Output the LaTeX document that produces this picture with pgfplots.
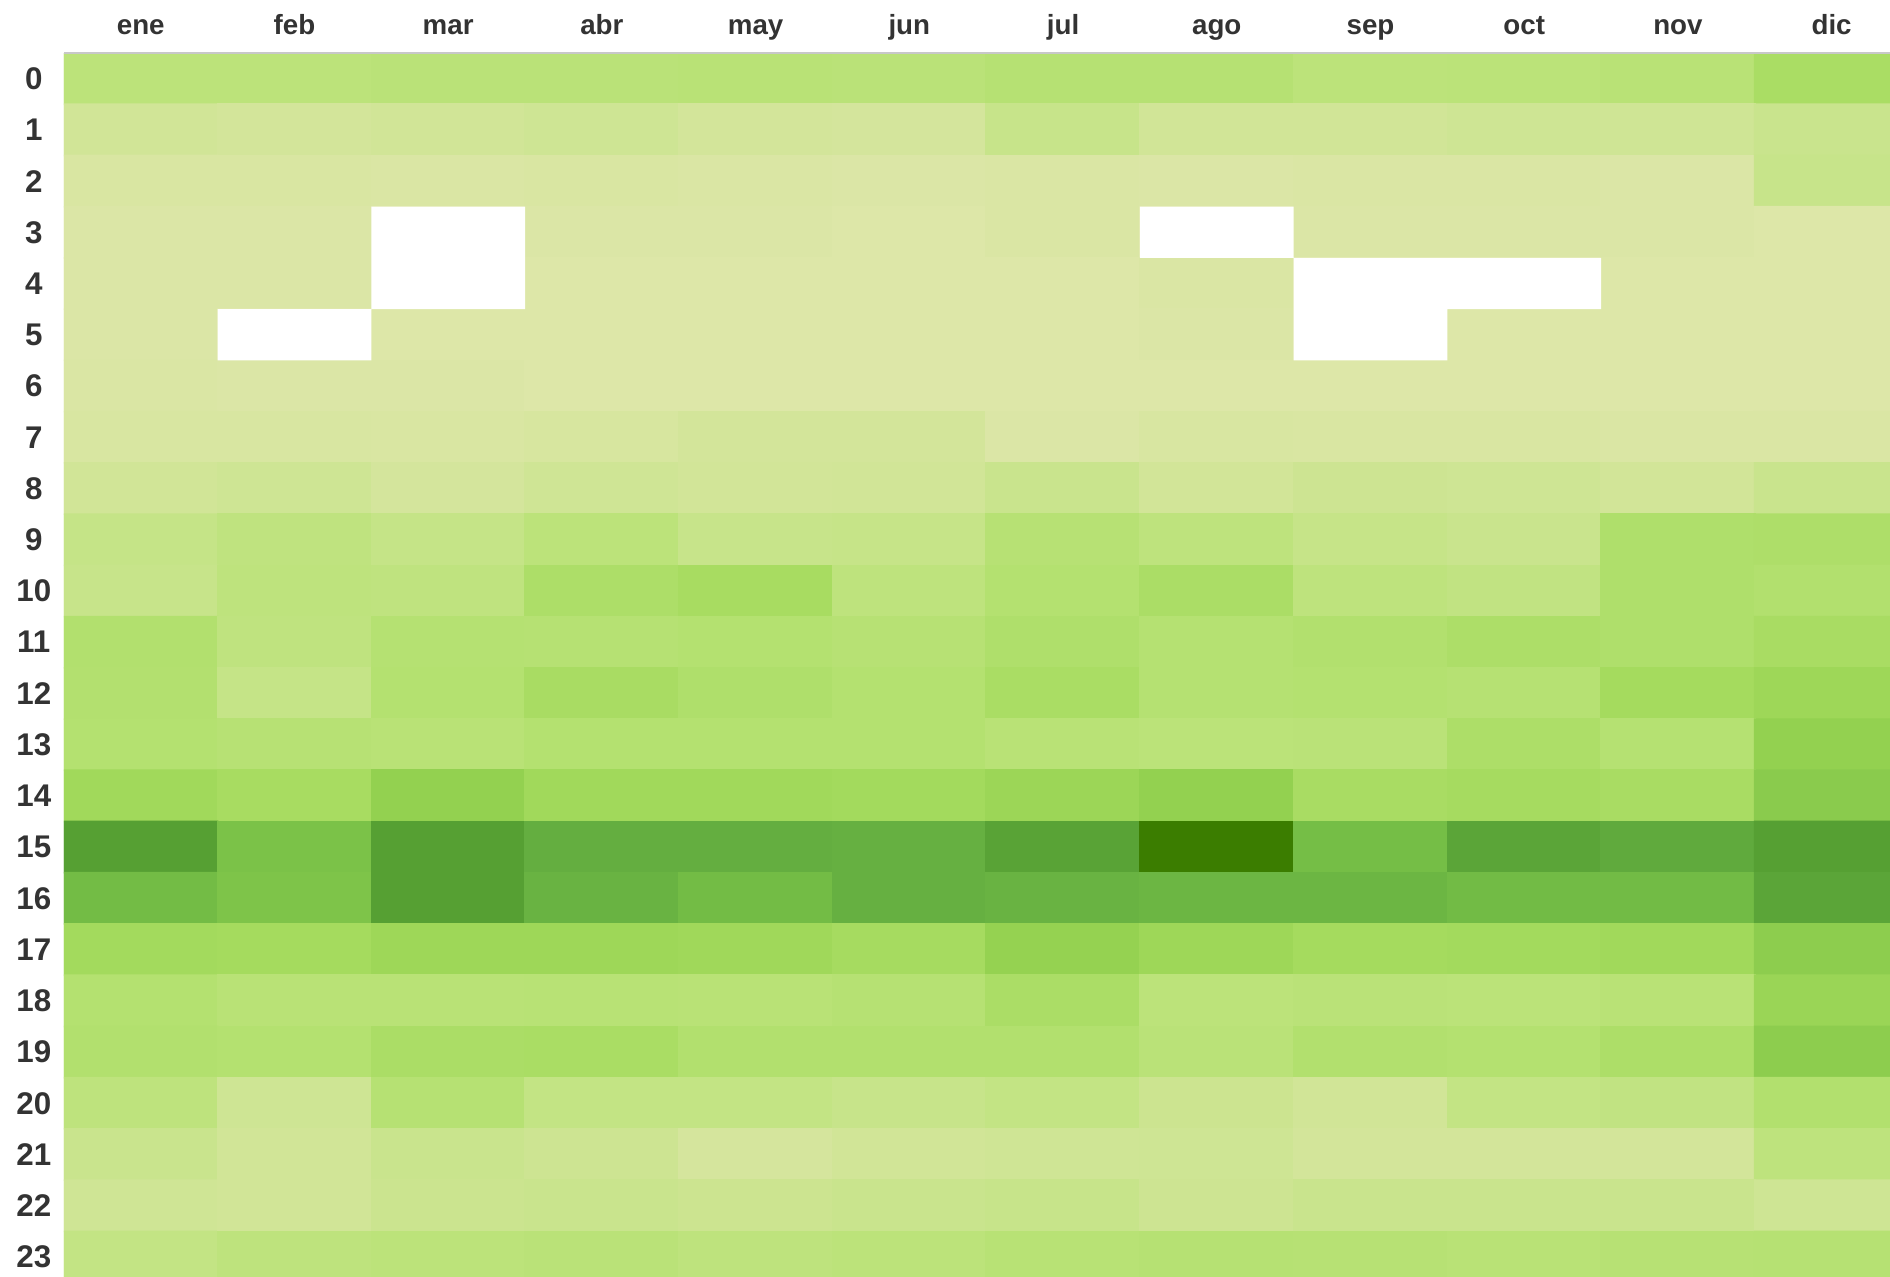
\documentclass[border=0pt]{standalone}
\usepackage{fontspec}
\setmainfont{Liberation Sans}
\usepackage{pgfplots}
\pgfplotsset{compat=1.18}
\definecolor{lbl}{RGB}{51,51,51}
\definecolor{topline}{RGB}{200,200,200}
\begin{document}
\begin{tikzpicture}
\begin{axis}[
    scale only axis,
    width=454.5pt, height=304.5pt,
    y dir=reverse,
    xmin=-0.5, xmax=11.38, ymin=-0.5, ymax=23.38,
    enlargelimits=false,
    axis on top,
    axis line style={draw=none},
    major tick length=0pt,
    xtick={0,...,11},
    xticklabels={ene,feb,mar,abr,may,jun,jul,ago,sep,oct,nov,dic},
    xticklabel pos=right,
    ytick={0,...,23},
    /pgf/number format/assume math mode=true,
    xticklabel style={font=\fontsize{6.9}{8}\selectfont\bfseries, text=lbl, anchor=base, yshift=4.6pt},
    yticklabel style={font=\fontsize{7.8}{9}\selectfont\bfseries, text=lbl, anchor=center, xshift=-7.5pt},
    colormap={grn}{rgb255(0cm)=(223,231,171) rgb255(10cm)=(211,229,154) rgb255(20cm)=(199,228,138)
        rgb255(30cm)=(188,227,122) rgb255(40cm)=(178,224,110) rgb255(50cm)=(165,219,94)
        rgb255(60cm)=(147,209,80) rgb255(70cm)=(117,190,70) rgb255(80cm)=(100,174,64)
        rgb255(88cm)=(86,160,51) rgb255(100cm)=(59,125,0)},
    point meta min=0, point meta max=100,
]
% hour x month activity (0 = lightest)
\addplot[matrix plot*, mesh/cols=12, point meta=explicit] coordinates {
(0,0)[30] (1,0)[30] (2,0)[32] (3,0)[32] (4,0)[33] (5,0)[32] (6,0)[36] (7,0)[36] (8,0)[30] (9,0)[31] (10,0)[33] (11,0)[46]

(0,1)[12] (1,1)[10] (2,1)[12] (3,1)[14] (4,1)[10] (5,1)[9] (6,1)[20] (7,1)[12] (8,1)[12] (9,1)[14] (10,1)[13] (11,1)[18]

(0,2)[5] (1,2)[5] (2,2)[4] (3,2)[5] (4,2)[4] (5,2)[3] (6,2)[4] (7,2)[3] (8,2)[4] (9,2)[4] (10,2)[3] (11,2)[20]

(0,3)[3] (1,3)[3] (2,3)[0] (3,3)[3] (4,3)[3] (5,3)[2] (6,3)[4] (7,3)[0] (8,3)[3] (9,3)[3] (10,3)[3] (11,3)[2]

(0,4)[3] (1,4)[3] (2,4)[0] (3,4)[2] (4,4)[2] (5,4)[2] (6,4)[2] (7,4)[4] (8,4)[0] (9,4)[0] (10,4)[2] (11,4)[2]

(0,5)[3] (1,5)[0] (2,5)[2] (3,5)[2] (4,5)[2] (5,5)[2] (6,5)[2] (7,5)[3] (8,5)[0] (9,5)[2] (10,5)[2] (11,5)[2]

(0,6)[4] (1,6)[3] (2,6)[3] (3,6)[2] (4,6)[2] (5,6)[2] (6,6)[2] (7,6)[2] (8,6)[2] (9,6)[2] (10,6)[2] (11,6)[2]

(0,7)[6] (1,7)[6] (2,7)[5] (3,7)[7] (4,7)[10] (5,7)[10] (6,7)[3] (7,7)[6] (8,7)[5] (9,7)[5] (10,7)[4] (11,7)[4]

(0,8)[12] (1,8)[14] (2,8)[9] (3,8)[13] (4,8)[11] (5,8)[12] (6,8)[18] (7,8)[11] (8,8)[15] (9,8)[14] (10,8)[11] (11,8)[18]

(0,9)[22] (1,9)[27] (2,9)[22] (3,9)[30] (4,9)[20] (5,9)[21] (6,9)[35] (7,9)[28] (8,9)[21] (9,9)[18] (10,9)[42] (11,9)[43]

(0,10)[20] (1,10)[28] (2,10)[27] (3,10)[44] (4,10)[48] (5,10)[28] (6,10)[38] (7,10)[45] (8,10)[28] (9,10)[25] (10,10)[42] (11,10)[40]

(0,11)[40] (1,11)[27] (2,11)[37] (3,11)[36] (4,11)[38] (5,11)[35] (6,11)[42] (7,11)[37] (8,11)[40] (9,11)[44] (10,11)[42] (11,11)[47]

(0,12)[39] (1,12)[22] (2,12)[38] (3,12)[47] (4,12)[42] (5,12)[38] (6,12)[46] (7,12)[37] (8,12)[38] (9,12)[36] (10,12)[50] (11,12)[54]

(0,13)[38] (1,13)[35] (2,13)[33] (3,13)[38] (4,13)[38] (5,13)[38] (6,13)[33] (7,13)[31] (8,13)[32] (9,13)[44] (10,13)[37] (11,13)[60]

(0,14)[52] (1,14)[48] (2,14)[60] (3,14)[52] (4,14)[52] (5,14)[51] (6,14)[55] (7,14)[60] (8,14)[47] (9,14)[49] (10,14)[47] (11,14)[63]

(0,15)[88] (1,15)[68] (2,15)[88] (3,15)[80] (4,15)[80] (5,15)[79] (6,15)[86] (7,15)[100] (8,15)[70] (9,15)[85] (10,15)[82] (11,15)[88]

(0,16)[71] (1,16)[67] (2,16)[88] (3,16)[77] (4,16)[71] (5,16)[79] (6,16)[77] (7,16)[75] (8,16)[75] (9,16)[72] (10,16)[72] (11,16)[85]

(0,17)[51] (1,17)[50] (2,17)[54] (3,17)[54] (4,17)[53] (5,17)[49] (6,17)[59] (7,17)[54] (8,17)[50] (9,17)[51] (10,17)[52] (11,17)[62]

(0,18)[38] (1,18)[33] (2,18)[33] (3,18)[34] (4,18)[33] (5,18)[36] (6,18)[45] (7,18)[30] (8,18)[32] (9,18)[31] (10,18)[33] (11,18)[56]

(0,19)[40] (1,19)[38] (2,19)[45] (3,19)[46] (4,19)[40] (5,19)[40] (6,19)[40] (7,19)[32] (8,19)[40] (9,19)[38] (10,19)[44] (11,19)[62]

(0,20)[28] (1,20)[14] (2,20)[36] (3,20)[24] (4,20)[24] (5,20)[20] (6,20)[24] (7,20)[16] (8,20)[12] (9,20)[24] (10,20)[25] (11,20)[40]

(0,21)[18] (1,21)[12] (2,21)[18] (3,21)[15] (4,21)[8] (5,21)[12] (6,21)[13] (7,21)[14] (8,21)[10] (9,21)[10] (10,21)[10] (11,21)[28]

(0,22)[13] (1,22)[12] (2,22)[17] (3,22)[18] (4,22)[16] (5,22)[18] (6,22)[20] (7,22)[15] (8,22)[18] (9,22)[18] (10,22)[18] (11,22)[14]

(0,23)[24] (1,23)[28] (2,23)[30] (3,23)[32] (4,23)[28] (5,23)[30] (6,23)[34] (7,23)[36] (8,23)[35] (9,23)[33] (10,23)[35] (11,23)[36]
};
% months/hours with no data
\addplot[fill=white, draw=none, unbounded coords=jump] coordinates {
(1.5,2.5) (2.5,2.5) (2.5,4.5) (1.5,4.5) (1.5,2.5) (nan,nan)
(0.5,4.5) (1.5,4.5) (1.5,5.5) (0.5,5.5) (0.5,4.5) (nan,nan)
(6.5,2.5) (7.5,2.5) (7.5,3.5) (6.5,3.5) (6.5,2.5) (nan,nan)
(7.5,3.5) (9.5,3.5) (9.5,4.5) (8.5,4.5) (8.5,5.5) (7.5,5.5) (7.5,3.5)
};
\end{axis}
\draw[topline, line width=0.7pt] (current axis.north west) -- (current axis.north east);
\pgfresetboundingbox
\path (current axis.south east) rectangle ++(-470.4pt,317.7pt);
\end{tikzpicture}
\end{document}
